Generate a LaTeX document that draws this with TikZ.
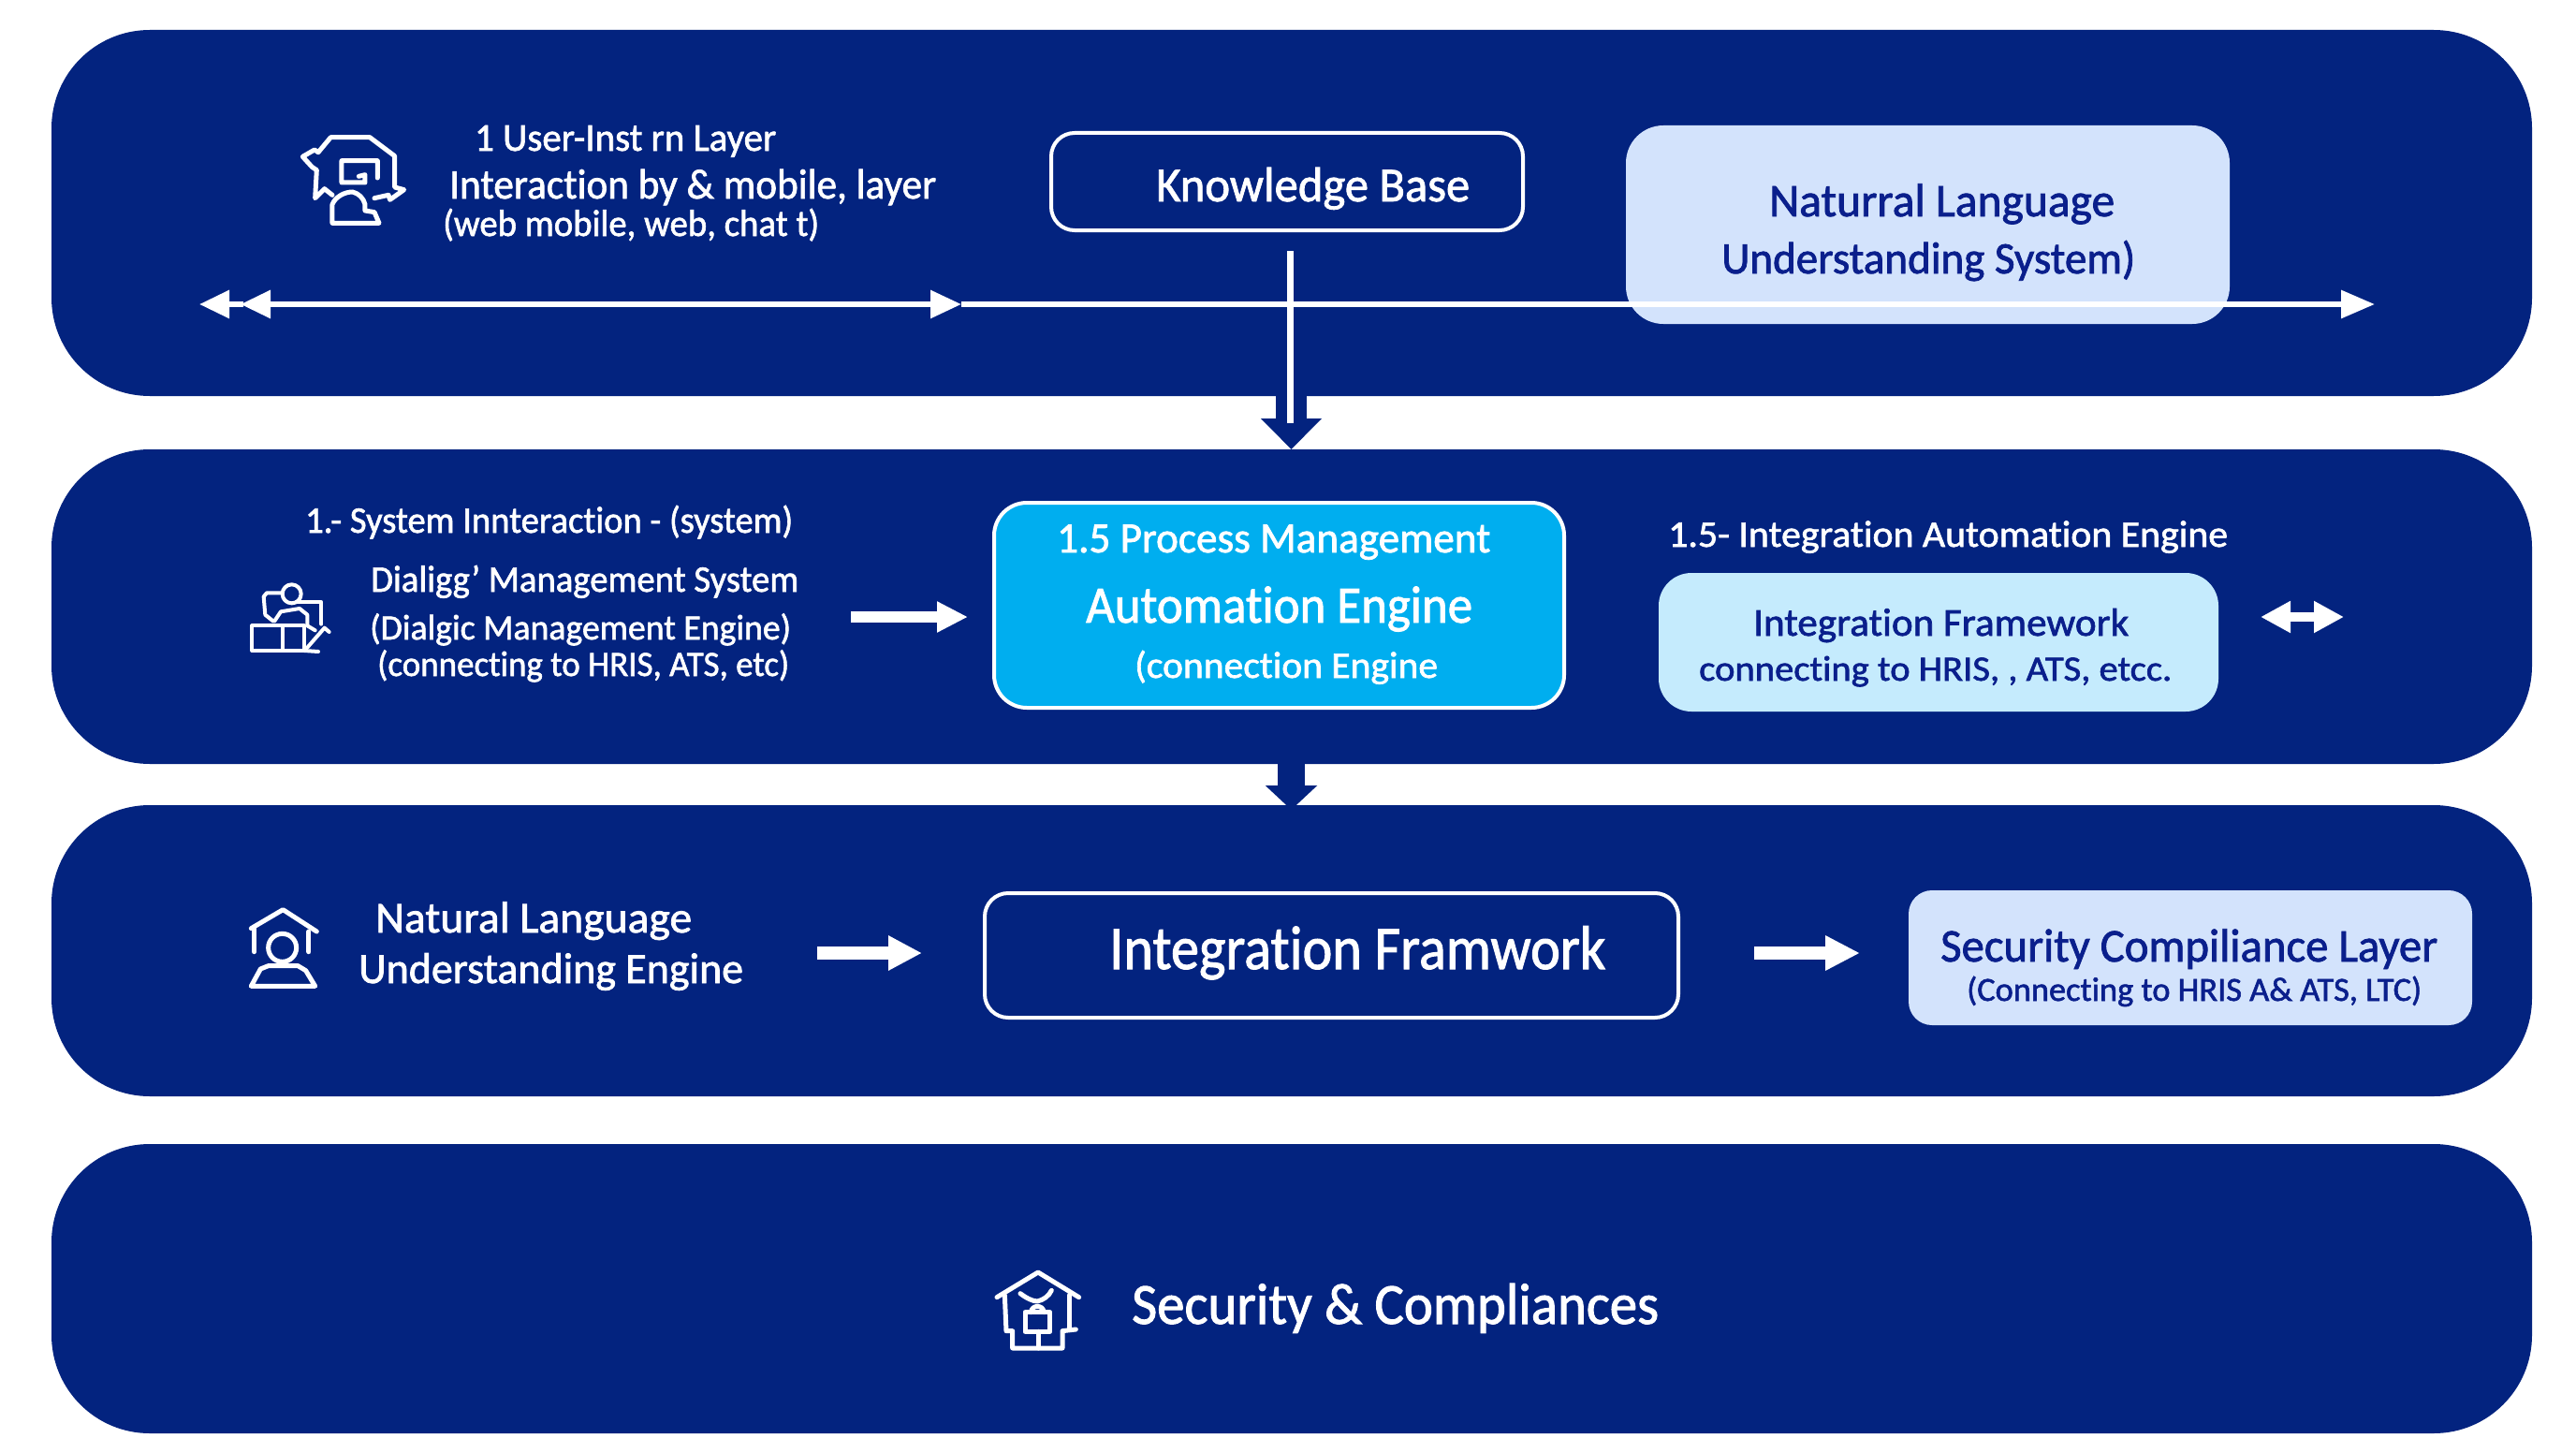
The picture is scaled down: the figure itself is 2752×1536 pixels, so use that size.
\documentclass[tikz,border=0pt]{standalone}
\usepackage{fontspec}
\usepackage{graphicx}
\setmainfont{Carlito}[FakeBold=1.6,Ligatures=CommonOff]
\usetikzlibrary{arrows.meta}
\definecolor{navy}{HTML}{03237F}
\definecolor{inkblue}{HTML}{0A1F8C}
\definecolor{palebox}{HTML}{D3E3FC}
\definecolor{skybox}{HTML}{00AEEF}
\definecolor{icebox}{HTML}{C5EBFD}
\newcommand{\fw}[3]{\resizebox{#1pt}{\height}{\fontsize{#2pt}{#2pt}\selectfont #3}}
\tikzset{
  band/.style={fill=navy,draw=none,rounded corners=105pt,inner sep=0pt},
  txt/.style={anchor=base west,inner sep=0pt,text=white},
  txtd/.style={txt,text=inkblue},
  outl/.style={draw=white,line width=4pt,fill=navy,rounded corners=#1,inner sep=0pt},
  solid box/.style={draw=none,rounded corners=#1,inner sep=0pt},
  wline/.style={line width=6pt,white},
  icon/.style={draw=white,line width=#1,line join=round,line cap=round},
}
\begin{document}
\begin{tikzpicture}[x=1pt,y=-1pt]
\useasboundingbox (0,0) rectangle (2752,1536);
\fill[white] (0,0) rectangle (2752,1536);
% bands
\node[band,minimum width=2650pt,minimum height=391pt] (b1) at (1380,227.5) {};
\node[band,minimum width=2650pt,minimum height=336pt] (b2) at (1380,648) {};
\node[band,minimum width=2650pt,minimum height=311pt] (b3) at (1380,1015.5) {};
\node[band,minimum width=2650pt,minimum height=309pt] (b4) at (1380,1376.5) {};
% boxes
\node[outl=25pt,minimum width=504pt,minimum height=104pt] (kb) at (1375,194) {};
\node[solid box=40pt,fill=palebox,minimum width=645pt,minimum height=212pt] (nl) at (2059.5,240) {};
\node[solid box=35pt,draw=white,line width=4pt,fill=skybox,minimum width=609pt,minimum height=219pt] (pm) at (1366.5,646.5) {};
\node[solid box=35pt,fill=icebox,minimum width=598pt,minimum height=148pt] (ifw) at (2071,686) {};
\node[outl=25pt,minimum width=741pt,minimum height=133pt] (fr) at (1422.5,1020.5) {};
\node[solid box=25pt,fill=palebox,minimum width=602pt,minimum height=144pt] (sec) at (2340,1023) {};
% connector end points
\coordinate (h0) at (213,325);
\coordinate (h1) at (260,325);
\coordinate (h2) at (257,325);
\coordinate (h3) at (1027,325);
\coordinate (h4) at (2537,325);
\coordinate (v0) at (1378.5,268);
\coordinate (v1) at (1378.5,452);
\coordinate (d0) at (1379.5,423);
\coordinate (d1) at (1379.5,480);
\coordinate (e0) at (1379.5,816);
\coordinate (e1) at (1379.5,865);
\coordinate (a0) at (909,659);
\coordinate (a1) at (1034,659);
\coordinate (x0) at (2415,659);
\coordinate (x1) at (2504,659);
\coordinate (f0) at (873,1018);
\coordinate (f1) at (985,1018);
\coordinate (g0) at (1874,1018);
\coordinate (g1) at (1987,1018);
% connectors
\draw[wline,{Triangle[length=32pt,width=29pt]}-] (h0) -- (h1);
\draw[wline,{Triangle[length=32pt,width=29pt]}-{Triangle[length=33pt,width=29pt]}] (h2) -- (h3);
\draw[wline,-{Triangle[length=36pt,width=29pt]}] (h3) -- (h4);
\draw[line width=33pt,navy,-{Triangle[length=33pt,width=63pt]}] (d0) -- (d1);
\draw[line width=7pt,white] (v0) -- (v1);
\draw[line width=29pt,navy,-{Triangle[length=26pt,width=54pt]}] (e0) -- (e1);
\draw[line width=12pt,white,-{Triangle[length=33pt,width=31pt]}] (a0) -- (a1);
\draw[line width=10pt,white,{Triangle[length=32pt,width=32pt]}-{Triangle[length=32pt,width=32pt]}] (x0) -- (x1);
\draw[line width=14pt,white,-{Triangle[length=36pt,width=35pt]}] (f0) -- (f1);
\draw[line width=14pt,white,-{Triangle[length=37pt,width=35pt]}] (g0) -- (g1);
% band 1 text
\node[txt] (t1) at (507,161) {\fw{322}{42}{1 User-Inst rn Layer}};
\node[txt] (t2) at (480,212) {\fw{520}{45}{Interaction by \& mobile, layer}};
\node[txt] (t3) at (473,252) {\fw{402}{40}{(web mobile, web, chat t)}};
\node[txt] (t4) at (1235,215) {\fw{335}{52}{Knowledge Base}};
\node[txtd] (t5) at (1890,231) {\fw{369}{50}{Naturral Language}};
\node[txtd] (t6) at (1839,292) {\fw{442}{48}{Understanding System)}};
% band 2 text
\node[txt] (t7) at (326,569) {\fw{521}{40}{1.- System Innteraction - (system)}};
\node[txt] (t8) at (396,632) {\fw{457}{40}{Dialigg’ Management System}};
\node[txt] (t9) at (395,683) {\fw{450}{38}{(Dialgic Management Engine)}};
\node[txt] (t10) at (403,722) {\fw{440}{38}{(connecting to HRIS, ATS, etc)}};
\node[txt] (t11) at (1129,590) {\fw{463}{46}{1.5 Process Management}};
\node[txt] (t12) at (1160,665) {\fw{413}{56}{Automation Engine}};
\node[txt] (t13) at (1212,724) {\fw{324}{40}{(connection Engine}};
\node[txt] (t14) at (1782,584) {\fw{598}{40}{1.5- Integration Automation Engine}};
\node[txtd] (t15) at (1873,679) {\fw{401}{42}{Integration Framework}};
\node[txtd] (t16) at (1815,727) {\fw{505}{38}{connecting to HRIS, , ATS, etcc.}};
% band 3 text
\node[txt] (t17) at (401,996) {\fw{338}{47}{Natural Language}};
\node[txt] (t18) at (383,1050) {\fw{411}{46}{Understanding Engine}};
\node[txt] (t19) at (1185,1035) {\fw{530}{66}{Integration Framwork}};
\node[txtd] (t20) at (2073,1027) {\fw{531}{50}{Security Compiliance Layer}};
\node[txtd] (t21) at (2101,1069) {\fw{486}{36}{(Connecting to HRIS A\& ATS, LTC)}};
% band 4 text
\node[txt] (t22) at (1209,1414) {\fw{563}{62}{Security \& Compliances}};
% icon 1
\begin{scope}[shift={(300,130)},x=0.3333pt,y=-0.3333pt]
\draw[icon=5pt] (165,235) -- (140,215) -- (110,245) -- (115,155) -- (100,145) -- (70,112) -- (108,90) -- (120,98) -- (160,50) -- (285,50) -- (365,110) -- (365,210) -- (395,218) -- (350,250) -- (345,235) -- (300,245);
\draw[icon=5pt] (310,180) -- (310,125) -- (195,125) -- (195,195) -- (270,195) -- (270,170) -- (250,175);
\draw[icon=5pt] (165,325) -- (165,265) .. controls (175,240) and (205,225) .. (230,225) .. controls (250,230) and (265,245) .. (270,265) -- (270,285) -- (300,290) -- (315,325) -- cycle;
\end{scope}
% icon 2
\begin{scope}[shift={(250,600)},x=0.3333pt,y=-0.3333pt]
\draw[icon=4pt] (185,103) circle (30);
\draw[icon=4pt] (58,205) rectangle (225,285);
\draw[icon=4pt] (225,285) -- (270,288);
\draw[icon=4pt] (155,205) -- (155,285);
\draw[icon=4pt] (125,190) -- (100,170) -- (95,112) -- (105,100) -- (155,100);
\draw[icon=4pt] (200,130) -- (280,130) -- (280,200);
\draw[icon=4pt] (130,190) -- (150,160) -- (210,150) -- (235,170) -- (235,205) -- (260,220);
\draw[icon=4pt] (235,275) -- (290,212) -- (305,225);
\end{scope}
% icon 3
\begin{scope}[shift={(250,955)},x=0.3333pt,y=-0.3333pt]
\draw[icon=5pt] (55,110) -- (157,50) -- (265,120);
\draw[icon=5pt] (65,110) -- (65,185);
\draw[icon=5pt] (240,120) -- (240,185);
\draw[icon=5pt] (155,172) circle (45);
\draw[icon=5pt] (55,295) -- (85,240) -- (110,230) -- (205,230) -- (230,245) -- (260,295) -- cycle;
\end{scope}
% icon 4
\begin{scope}[shift={(1050,1345)},x=0.3333pt,y=-0.3333pt]
\draw[icon=5pt] (45,122) -- (177,42) -- (308,122);
\draw[icon=5pt] (70,115) -- (75,230) -- (95,230) -- (95,285) -- (255,285) -- (255,230) -- (298,225);
\draw[icon=5pt] (278,115) -- (278,225);
\draw[icon=5pt] (135,170) rectangle (215,232);
\draw[icon=5pt] (155,170) .. controls (155,145) and (195,145) .. (195,170);
\draw[icon=5pt] (177,232) -- (177,285);
\draw[icon=5pt] (120,110) .. controls (140,125) and (160,135) .. (175,135) .. controls (195,130) and (212,118) .. (220,100);
\end{scope}
\end{tikzpicture}
\end{document}
